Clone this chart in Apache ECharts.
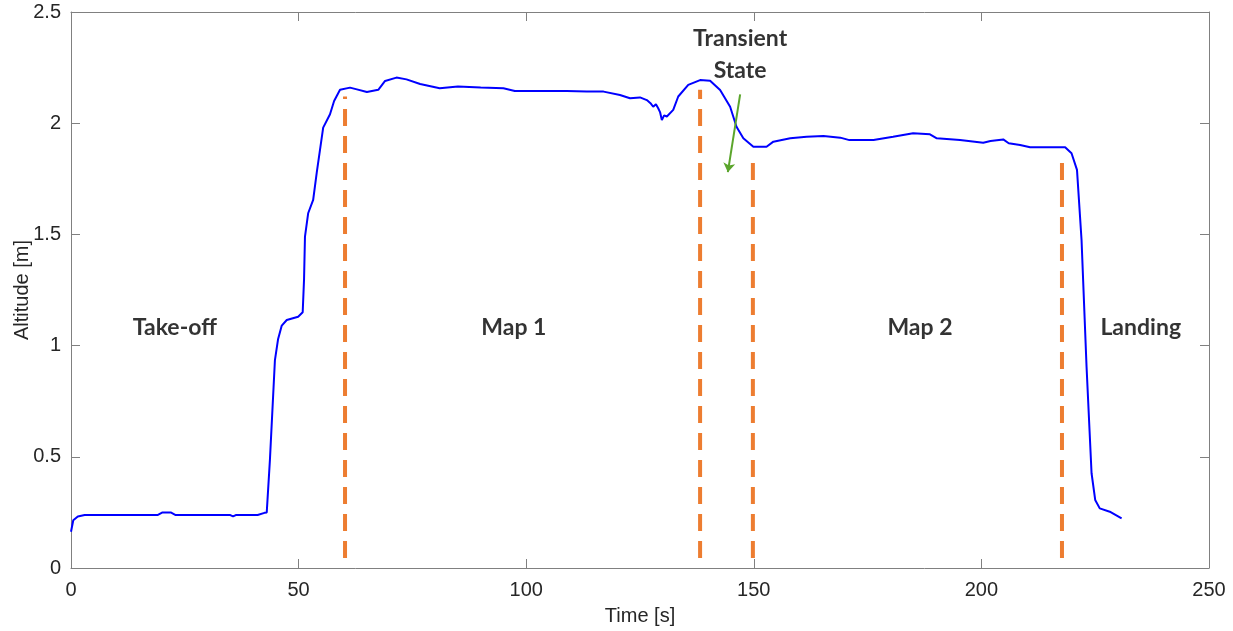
<!DOCTYPE html>
<html>
<head>
<meta charset="utf-8">
<script src="https://cdn.jsdelivr.net/npm/echarts@6/dist/echarts.min.js"></script>
<style>
  html, body { margin: 0; padding: 0; background: #fff; }
  #main { width: 1233px; height: 631px; }
</style>
</head>
<body>
<div id="main"></div>
<script>
// altitude trace
const time = [0, 0.5, 1.5, 3, 10, 19, 20, 22, 23, 30, 35, 35.6, 36.2, 40, 41, 42.5, 43, 43.7, 44.8, 45.5, 46.3,
  47.4, 49.9, 50.9, 51.2, 51.4, 52.1, 53.2, 54, 55.4, 56.9, 57.8, 59.1, 61.3, 62.8, 65, 67.5, 69, 71.5, 73.7,
  76.7, 81, 85, 90, 95, 97.5, 103, 108.9, 113.3, 117, 120.6, 122.8, 125, 126.5, 127.3, 127.9, 128.5, 129,
  129.4, 129.8, 130.3, 130.9, 132.3, 133.4, 135.6, 138.2, 140.4, 142.6, 144.8, 146.2, 147.7, 149.9, 152.8,
  154.3, 158, 161.6, 165.3, 169, 171, 176.3, 180.6, 185, 188.7, 190.2, 195.3, 200.4, 202, 204.8, 206, 208.5,
  210.7, 218.4, 219.8, 221, 222, 223.1, 224.2, 225, 226, 228.2, 230.8];
const altitude = [0.163, 0.215, 0.232, 0.238, 0.238, 0.238, 0.249, 0.249, 0.238, 0.238, 0.238, 0.232, 0.238,
  0.238, 0.238, 0.248, 0.25, 0.486, 0.935, 1.03, 1.09, 1.115, 1.13, 1.15, 1.3, 1.49, 1.595, 1.655, 1.78, 1.98,
  2.04, 2.1, 2.15, 2.16, 2.152, 2.14, 2.15, 2.19, 2.205, 2.197, 2.176, 2.157, 2.165, 2.16, 2.157, 2.145, 2.145,
  2.145, 2.142, 2.142, 2.127, 2.112, 2.116, 2.104, 2.09, 2.074, 2.085, 2.067, 2.05, 2.014, 2.035, 2.03, 2.06,
  2.12, 2.172, 2.194, 2.191, 2.149, 2.074, 1.984, 1.932, 1.894, 1.894, 1.917, 1.932, 1.939, 1.942, 1.935,
  1.924, 1.924, 1.939, 1.955, 1.95, 1.932, 1.924, 1.912, 1.92, 1.927, 1.91, 1.902, 1.892, 1.892, 1.865, 1.79,
  1.475, 0.905, 0.426, 0.306, 0.268, 0.253, 0.223];

// phase boundaries (dashed), bottom and top altitude of each dash line
const phaseTimes = [60.2, 138.2, 149.8, 217.7];
const phaseBottom = [0.045, 0.045, 0.045, 0.045];
const phaseTop = [2.12, 2.15, 1.857, 1.857];

// phase annotations
const phaseNames = ['Take-off', 'Map 1', 'Transient\nState', 'Map 2', 'Landing'];
const phaseLabelT = [22.8, 97.3, 147, 186.5, 235];
const phaseLabelV = [1.08, 1.08, 2.31, 1.08, 1.08];

// green arrow from the transient label
const arrowFrom = [147, 2.13];
const arrowTo = [144.3, 1.78];

const chart = echarts.init(document.getElementById('main'));

const axisGray = '#808080';
const tickFont = { color: '#262626', fontSize: 20, fontFamily: 'Liberation Sans' };

function boxAxis(extra) {
  return Object.assign({
    axisLine: { show: true, onZero: false, lineStyle: { color: axisGray, width: 1 } },
    axisTick: { show: true, inside: true, length: 9, lineStyle: { color: axisGray } },
    splitLine: { show: false }
  }, extra);
}

const dashSeries = phaseTimes.map((t, i) => ({
  type: 'line',
  data: [[t, phaseBottom[i]], [t, phaseTop[i]]],
  symbol: 'none',
  silent: true,
  lineStyle: { color: '#ED7D31', width: 4, type: [17, 10] },
  z: 3
}));

const option = {
  animation: false,
  grid: { left: 71, right: 24, top: 12, bottom: 63, show: false, outerBoundsMode: 'none', containLabel: false },
  xAxis: [
    boxAxis({
      type: 'value', min: 0, max: 250, interval: 50, position: 'bottom',
      name: 'Time [s]', nameLocation: 'middle', nameGap: 38,
      nameTextStyle: { color: '#262626', fontSize: 20, fontFamily: 'Liberation Sans' },
      axisLabel: Object.assign({ margin: 12 }, tickFont)
    }),
    boxAxis({
      type: 'value', min: 0, max: 250, interval: 50, position: 'top',
      axisLabel: { show: false }
    })
  ],
  yAxis: [
    boxAxis({
      type: 'value', min: 0, max: 2.5, interval: 0.5, position: 'left',
      name: 'Altitude [m]', nameLocation: 'middle', nameGap: 39, nameRotate: 90,
      nameMoveOverlap: false,
      nameTextStyle: { color: '#262626', fontSize: 20, fontFamily: 'Liberation Sans' },
      axisLabel: Object.assign({ margin: 10 }, tickFont)
    }),
    boxAxis({
      type: 'value', min: 0, max: 2.5, interval: 0.5, position: 'right',
      axisLabel: { show: false }
    })
  ],
  series: [
    {
      type: 'line',
      data: time.map((t, i) => [t, altitude[i]]),
      symbol: 'none',
      lineStyle: { color: '#0000ff', width: 2 },
      z: 4
    },
    ...dashSeries,
    {
      type: 'lines',
      coordinateSystem: 'cartesian2d',
      data: [{ coords: [arrowFrom, arrowTo] }],
      symbol: ['none', 'arrow'],
      symbolSize: 9,
      lineStyle: { color: '#5BA52C', width: 2, opacity: 1 },
      z: 5
    },
    {
      type: 'scatter',
      data: phaseLabelT.map((t, i) => [t, phaseLabelV[i], phaseNames[i]]),
      symbolSize: 0,
      silent: true,
      label: {
        show: true,
        position: 'inside',
        formatter: p => p.data[2],
        color: '#000',
        fontSize: 23,
        fontWeight: 'bold',
        fontFamily: 'Lato',
        lineHeight: 32,
        align: 'center'
      },
      z: 6
    }
  ]
};

chart.setOption(option);
</script>
</body>
</html>
